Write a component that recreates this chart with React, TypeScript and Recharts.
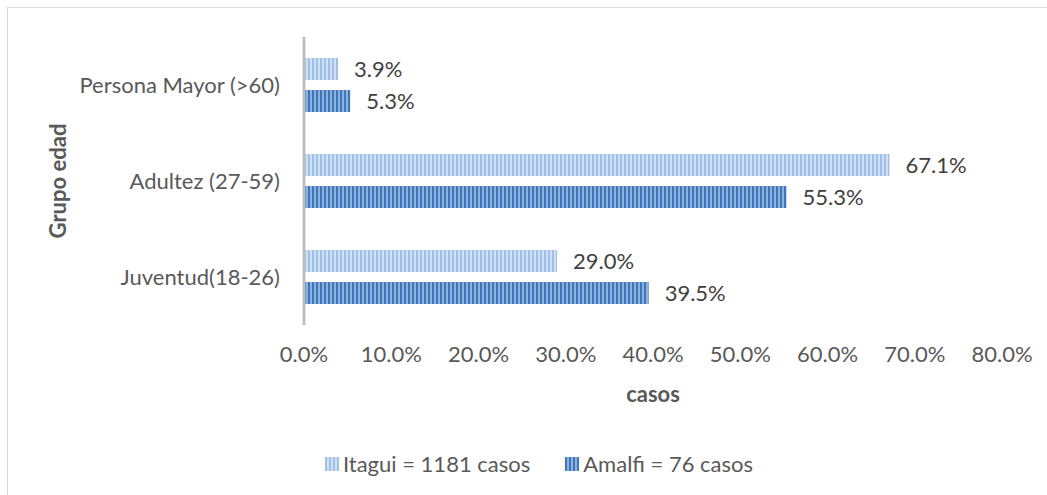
import { BarChart, Bar, XAxis, YAxis, LabelList, Legend } from 'recharts';

const categories = ['Persona Mayor (>60)', 'Adultez (27-59)', 'Juventud(18-26)'];
const itaguiValues = [3.9, 67.1, 29.0];
const amalfiValues = [5.3, 55.3, 39.5];
const xTicks = [0, 10, 20, 30, 40, 50, 60, 70, 80];
const seriesNames = ['Itagui = 1181 casos', 'Amalfi = 76 casos'];

const data = categories.map((name, i) => ({
  name,
  itagui: itaguiValues[i],
  amalfi: amalfiValues[i],
}));

const FONT = 'Lato, "Open Sans", sans-serif';
const TICK_COLOR = '#595959';
const LABEL_COLOR = '#404040';

const stripes = {
  itagui: { dark: '#9ec0e8', light: '#cfe0f4' },
  amalfi: { dark: '#3d78bd', light: '#8fb2dc' },
};

function YTitle(props: any) {
  const vb = props.viewBox || { x: 0, y: 0, width: 0, height: 0 };
  const cx = vb.x + 49;
  const cy = vb.y + vb.height / 2;
  return (
    <text
      x={cx}
      y={cy}
      transform={`rotate(-90 ${cx} ${cy})`}
      textAnchor="middle"
      dominantBaseline="central"
      fill={TICK_COLOR}
      fontSize={22}
      fontWeight="bold"
      fontFamily={FONT}
    >
      Grupo edad
    </text>
  );
}

function LegendContent() {
  const keys: Array<'itagui' | 'amalfi'> = ['itagui', 'amalfi'];
  return (
    <div
      style={{
        height: 80,
        paddingTop: 37,
        paddingLeft: 68,
        boxSizing: 'border-box',
        display: 'flex',
        justifyContent: 'center',
        gap: 35,
        fontFamily: FONT,
        fontSize: 22,
        color: TICK_COLOR,
        lineHeight: '24px',
      }}
    >
      {keys.map((k, i) => (
        <div key={k} style={{ display: 'flex', alignItems: 'center' }}>
          <span
            style={{
              display: 'inline-block',
              width: 14,
              height: 14,
              marginRight: 4,
              background: `repeating-linear-gradient(90deg, ${stripes[k].dark} 0 2px, ${stripes[k].light} 2px 4px)`,
            }}
          />
          {seriesNames[i]}
        </div>
      ))}
    </div>
  );
}

const pct = (v: number) => `${v.toFixed(1)}%`;

export default function App() {
  return (
    <div
      style={{
        position: 'absolute',
        left: 7,
        top: 7,
        width: 1040,
        height: 488,
        borderLeft: '1px solid #d9d9d9',
        borderTop: '1px solid #d9d9d9',
        boxSizing: 'border-box',
        background: '#fff',
      }}
    >
      <BarChart
        width={1039}
        height={487}
        data={data}
        layout="vertical"
        margin={{ top: 29, right: 45, bottom: 10, left: 0 }}
        barCategoryGap={21}
        barGap={10}
      >
        <defs>
          <pattern id="patItagui" width={4} height={4} patternUnits="userSpaceOnUse">
            <rect x={0} y={0} width={4} height={4} fill={stripes.itagui.light} />
            <rect x={0} y={0} width={2} height={4} fill={stripes.itagui.dark} />
          </pattern>
          <pattern id="patAmalfi" width={4} height={4} patternUnits="userSpaceOnUse">
            <rect x={0} y={0} width={4} height={4} fill={stripes.amalfi.light} />
            <rect x={0} y={0} width={2} height={4} fill={stripes.amalfi.dark} />
          </pattern>
        </defs>
        <XAxis
          type="number"
          domain={[0, 80]}
          ticks={xTicks}
          tickFormatter={pct}
          axisLine={false}
          tickLine={false}
          tickSize={0}
          tickMargin={21}
          height={80}
          tick={{ fill: TICK_COLOR, fontSize: 22, fontFamily: FONT }}
          label={{
            value: 'casos',
            position: 'insideBottom',
            offset: 3,
            fill: TICK_COLOR,
            fontSize: 22,
            fontWeight: 'bold',
            fontFamily: FONT,
          }}
        />
        <YAxis
          type="category"
          dataKey="name"
          width={296}
          axisLine={{ stroke: '#bfbfbf', strokeWidth: 3 }}
          tickLine={false}
          tickSize={0}
          tickMargin={24}
          tick={{ fill: TICK_COLOR, fontSize: 22, fontFamily: FONT }}
          label={{ content: (p: any) => <YTitle {...p} /> }}
        />
        <Legend verticalAlign="bottom" content={() => <LegendContent />} />
        <Bar dataKey="itagui" name={seriesNames[0]} fill="url(#patItagui)" isAnimationActive={false}>
          <LabelList
            dataKey="itagui"
            position="right"
            offset={16}
            formatter={(v: any) => pct(Number(v))}
            fill={LABEL_COLOR}
            fontSize={22}
            fontFamily={FONT}
          />
        </Bar>
        <Bar dataKey="amalfi" name={seriesNames[1]} fill="url(#patAmalfi)" isAnimationActive={false}>
          <LabelList
            dataKey="amalfi"
            position="right"
            offset={16}
            formatter={(v: any) => pct(Number(v))}
            fill={LABEL_COLOR}
            fontSize={22}
            fontFamily={FONT}
          />
        </Bar>
      </BarChart>
    </div>
  );
}
